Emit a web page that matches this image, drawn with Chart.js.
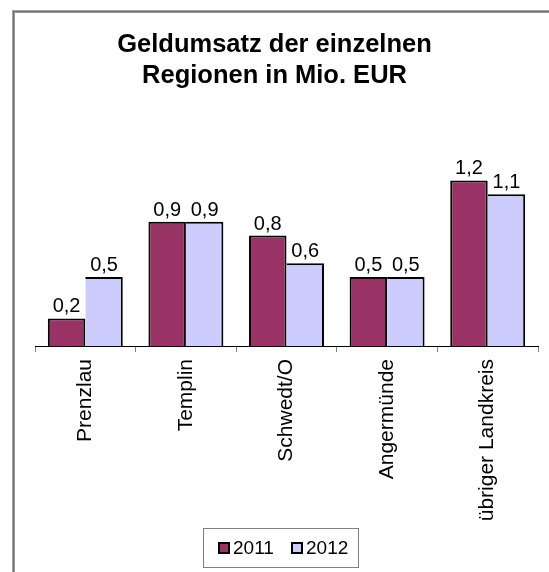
<!DOCTYPE html>
<html>
<head>
<meta charset="utf-8">
<script src="https://cdn.jsdelivr.net/npm/chart.js@4/dist/chart.umd.min.js"></script>
<style>
  html, body { margin: 0; padding: 0; background: #fff; }
  #wrap { position: relative; width: 549px; height: 572px; }
</style>
</head>
<body>
<div id="wrap"><canvas id="chart" width="549" height="572"></canvas></div>
<script>
"use strict";

// --- Daten -------------------------------------------------------------------

const regionen = ["Prenzlau", "Templin", "Schwedt/O", "Angermünde", "übriger Landkreis"];
const umsatz2011 = [0.2, 0.9, 0.8, 0.5, 1.2];
const umsatz2012 = [0.5, 0.9, 0.6, 0.5, 1.1];
const jahre = ["2011", "2012"];
const titel = ["Geldumsatz der einzelnen", "Regionen in Mio. EUR"];

const FONT = "'Liberation Sans', Arial, sans-serif";
const fmt = (v) => v.toFixed(1).replace(".", ",");

// --- Plugins -----------------------------------------------------------------

// grauer Rahmen (nur links/oben sichtbar)
const rahmen = {
  id: "rahmen",
  beforeDraw(chart) {
    const ctx = chart.ctx;
    ctx.save();
    ctx.fillStyle = "#a6a6a6";
    ctx.fillRect(12, 10, 549, 1);
    ctx.fillRect(12, 10, 1, 572);
    ctx.fillStyle = "#6e6e6e";
    ctx.fillRect(13, 11, 549, 1);
    ctx.fillRect(13, 11, 1, 572);
    ctx.fillStyle = "#999";
    ctx.fillRect(14, 12, 549, 1);
    ctx.fillRect(14, 12, 1, 572);
    ctx.restore();
  },
};

// Werte ueber den Balken
const werte = {
  id: "werte",
  afterDatasetsDraw(chart) {
    const ctx = chart.ctx;
    ctx.save();
    ctx.font = `20px ${FONT}`;
    ctx.fillStyle = "#000";
    ctx.textAlign = "center";
    ctx.textBaseline = "alphabetic";
    chart.data.datasets.forEach((ds, i) => {
      chart.getDatasetMeta(i).data.forEach((bar, j) => {
        ctx.fillText(fmt(ds.data[j]), bar.x, bar.y - 6);
      });
    });
    ctx.restore();
  },
};

// Legende im Kasten unten
const legende = {
  id: "legende",
  afterDraw(chart) {
    const ctx = chart.ctx;
    ctx.save();
    ctx.strokeStyle = "#808080";
    ctx.lineWidth = 1;
    ctx.strokeRect(203.5, 528.5, 155, 39);
    ctx.font = `19px ${FONT}`;
    ctx.textBaseline = "middle";
    ctx.textAlign = "left";
    const xs = [219, 292];
    chart.data.datasets.forEach((ds, i) => {
      const x = xs[i];
      ctx.fillStyle = ds.backgroundColor;
      ctx.fillRect(x, 543, 10, 10);
      ctx.strokeStyle = "#000";
      ctx.lineWidth = 2;
      ctx.strokeRect(x, 543, 10, 10);
      ctx.fillStyle = "#000";
      ctx.fillText(ds.label, x + 14, 548.5);
    });
    ctx.restore();
  },
};

// --- Chart -------------------------------------------------------------------

new Chart(document.getElementById("chart"), {
  type: "bar",
  data: {
    labels: regionen,
    datasets: [
      { label: jahre[0], data: umsatz2011, backgroundColor: "#993366", borderColor: "#000",
        borderWidth: { top: 2, left: 2, right: 2, bottom: 0 }, borderSkipped: false },
      { label: jahre[1], data: umsatz2012, backgroundColor: "#CCCCFF", borderColor: "#000",
        borderWidth: { top: 2, left: 0, right: 2, bottom: 0 }, borderSkipped: false },
    ],
  },
  options: {
    responsive: false,
    devicePixelRatio: 1,
    animation: false,
    layout: { padding: { top: 30, left: 0, right: 0, bottom: 0 } },
    datasets: { bar: { categoryPercentage: 0.745, barPercentage: 1 } },
    plugins: {
      legend: { display: false },
      tooltip: { enabled: false },
      title: {
        display: true,
        text: titel,
        color: "#000",
        font: { family: FONT, size: 25.5, weight: "bold", lineHeight: 1.2 },
        padding: { top: 0, bottom: 61.6 },
      },
    },
    scales: {
      x: {
        grid: { display: true, drawOnChartArea: false, drawTicks: true, tickLength: 6, color: "#808080", offset: true },
        border: { display: true, color: "#000", width: 1 },
        ticks: { autoSkip: false, minRotation: 90, maxRotation: 90, padding: 7, color: "#000",
                 font: { family: FONT, size: 21 } },
        afterFit: (s) => { s.height = 226; },
      },
      y: {
        min: 0, max: 1.4,
        grid: { display: false }, border: { display: false }, ticks: { display: false },
        afterFit: (s) => { s.width = 35; },
      },
      y2: {
        position: "right", min: 0, max: 1,
        grid: { display: false }, border: { display: false }, ticks: { display: false },
        afterFit: (s) => { s.width = 11; },
      },
    },
  },
  plugins: [rahmen, werte, legende],
});
</script>
</body>
</html>
